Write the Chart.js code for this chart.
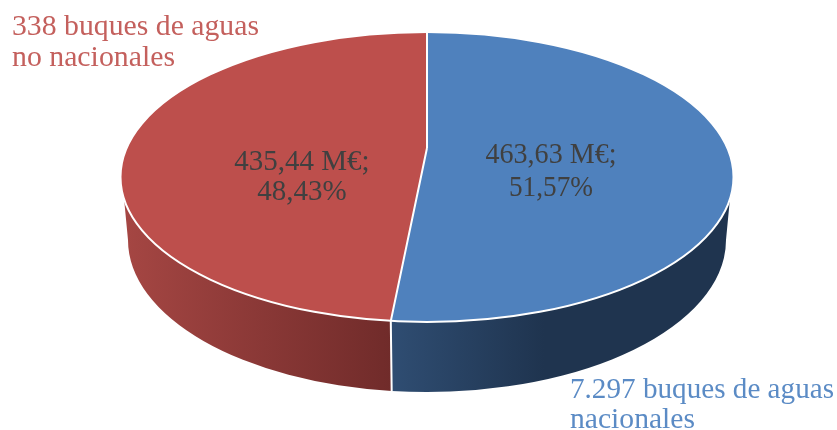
<!DOCTYPE html>
<html>
<head>
<meta charset="utf-8">
<style>
  html, body { margin: 0; padding: 0; background: #fff; }
  canvas { display: block; }
</style>
<script src="https://cdn.jsdelivr.net/npm/chart.js@4"></script>
</head>
<body>
<canvas id="pie" width="837" height="430"></canvas>
<script>
const categories = ["7.297 buques de aguas nacionales", "338 buques de aguas no nacionales"];
const amounts = [463.63, 435.44];
const amountLabels = ["463,63 M€;", "435,44 M€;"];
const percentLabels = ["51,57%", "48,43%"];
const topColors = ["#4f81bd", "#bd4f4c"];
const labelColors = ["#5b8bc5", "#c4605d"];

// picture geometry of the tilted disc
const TOP = { x: 427, y: 177, rx: 306.5, ry: 145 };
const BOTTOM = { x: 427, y: 240, rx: 299, ry: 152 };
const SIDE_MIN = (98.75 * Math.PI) / 180;
const SIDE_MAX = (261.25 * Math.PI) / 180;
const SCALE_X = 2.118 * 1.3;
const SCALE_Y = 1.3;

// where a slice edge leaving the apex hits the top ellipse, as angle from 12 o'clock
function edgeAngle(arc, angle) {
  const dx = SCALE_X * Math.cos(angle) / TOP.rx;
  const dy = SCALE_Y * Math.sin(angle) / TOP.ry;
  const ox = (arc.x - TOP.x) / TOP.rx;
  const oy = (arc.y - TOP.y) / TOP.ry;
  const a = dx * dx + dy * dy;
  const b = 2 * (ox * dx + oy * dy);
  const c = ox * ox + oy * oy - 1;
  const s = (-b + Math.sqrt(b * b - 4 * a * c)) / (2 * a);
  let t = Math.atan2(ox + s * dx, -(oy + s * dy));
  if (t < -1e-6) t += Math.PI * 2;
  return t;
}

function onEllipse(e, t) {
  return [e.x + e.rx * Math.sin(t), e.y - e.ry * Math.cos(t)];
}

function sideGradient(ctx, i) {
  let g;
  if (i === 0) {
    g = ctx.createLinearGradient(392, 0, 730, 0);
    g.addColorStop(0, "#2f4d72");
    g.addColorStop(0.45, "#1f344f");
    g.addColorStop(1, "#1f344f");
  } else {
    g = ctx.createLinearGradient(125, 0, 392, 0);
    g.addColorStop(0, "#a54643");
    g.addColorStop(1, "#702b2a");
  }
  return g;
}

function drawSide(ctx, arc, i) {
  const t0 = edgeAngle(arc, arc.startAngle);
  let t1 = edgeAngle(arc, arc.endAngle);
  if (t1 < 1e-6) t1 = Math.PI * 2;
  const v0 = Math.max(t0, SIDE_MIN);
  const v1 = Math.min(t1, SIDE_MAX);
  if (v0 >= v1) return;
  const b0 = v0 === SIDE_MIN ? Math.PI / 2 : v0;
  const b1 = v1 === SIDE_MAX ? (Math.PI * 3) / 2 : v1;
  ctx.beginPath();
  ctx.ellipse(TOP.x, TOP.y, TOP.rx, TOP.ry, 0, v0 - Math.PI / 2, v1 - Math.PI / 2);
  ctx.ellipse(BOTTOM.x, BOTTOM.y, BOTTOM.rx, BOTTOM.ry, 0, b1 - Math.PI / 2, b0 - Math.PI / 2, true);
  ctx.closePath();
  ctx.fillStyle = sideGradient(ctx, i);
  ctx.fill();
}

const tiltedDisc = {
  id: "tiltedDisc",
  beforeDatasetsDraw(chart) {
    const ctx = chart.ctx;
    const arcs = chart.getDatasetMeta(0).data;
    arcs.forEach((arc, i) => drawSide(ctx, arc, i));
    ctx.save();
    ctx.beginPath();
    ctx.ellipse(TOP.x, TOP.y, TOP.rx, TOP.ry, 0, 0, Math.PI * 2);
    ctx.clip();
    ctx.translate(arcs[0].x, arcs[0].y);
    ctx.scale(SCALE_X, SCALE_Y);
    ctx.translate(-arcs[0].x, -arcs[0].y);
  },
  afterDatasetsDraw(chart) {
    const ctx = chart.ctx;
    const arcs = chart.getDatasetMeta(0).data;
    ctx.restore();

    ctx.strokeStyle = "#ffffff";
    ctx.lineWidth = 2;
    ctx.beginPath();
    ctx.ellipse(TOP.x, TOP.y, TOP.rx, TOP.ry, 0, 0, Math.PI * 2);
    ctx.stroke();

    arcs.forEach((arc) => {
      const t = edgeAngle(arc, arc.startAngle);
      const [tx, ty] = onEllipse(TOP, t);
      ctx.beginPath();
      ctx.moveTo(arc.x, arc.y);
      ctx.lineTo(tx, ty);
      if (t > SIDE_MIN && t < SIDE_MAX) {
        const [bx, by] = onEllipse(BOTTOM, t);
        ctx.lineTo(bx, by);
      }
      ctx.stroke();
    });

    drawLabels(ctx);
  },
};

function drawLabels(ctx) {
  const line = (text, x, y, color, maxW, align) => {
    ctx.fillStyle = color;
    ctx.textAlign = align;
    ctx.fillText(text, x, y, maxW);
  };
  ctx.textBaseline = "alphabetic";

  ctx.font = "29px 'Liberation Serif'";
  line(amountLabels[0], 551, 163, "#404040", 131, "center");
  line(percentLabels[0], 551, 196, "#404040", 84, "center");
  line(amountLabels[1], 302, 170, "#404040", 136, "center");
  line(percentLabels[1], 302, 200, "#404040", 93, "center");

  ctx.font = "30px 'Liberation Serif'";
  line("7.297 buques de aguas", 570, 398, labelColors[0], 264, "left");
  line("nacionales", 570, 428, labelColors[0], 125, "left");
  line("338 buques de aguas", 12, 35, labelColors[1], 247, "left");
  line("no nacionales", 12, 66, labelColors[1], 163, "left");
}

new Chart(document.getElementById("pie"), {
  type: "pie",
  data: {
    labels: categories,
    datasets: [
      {
        data: amounts,
        backgroundColor: topColors,
        borderWidth: 0,
      },
    ],
  },
  options: {
    responsive: false,
    animation: false,
    layout: { padding: { left: 17, right: 0, top: 0, bottom: 134 } },
    plugins: {
      legend: { display: false },
      tooltip: { enabled: false },
    },
  },
  plugins: [tiltedDisc],
});
</script>
</body>
</html>
